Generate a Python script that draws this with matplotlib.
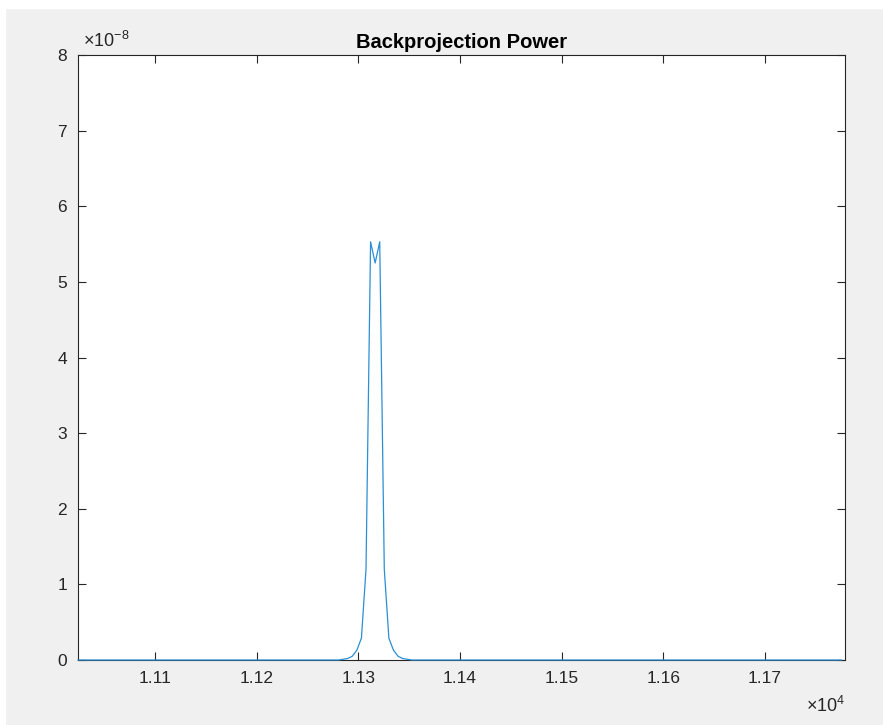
import numpy as np
import matplotlib.pyplot as plt
from matplotlib.patches import Rectangle

plt.rcParams['font.family'] = ['Liberation Sans', 'DejaVu Sans']
plt.rcParams['mathtext.fontset'] = 'custom'
plt.rcParams['mathtext.rm'] = 'Liberation Sans'

# sample grid (range axis)
x_start = 11024.0
x_step = 4.5
# backprojection power, in units of 1e-8
peak_vals = [0.01, 0.02, 0.05, 0.13, 0.29, 1.2, 5.53, 5.25, 5.53, 1.2, 0.29, 0.13, 0.05, 0.02, 0.01]
power = [0.0] * 58 + peak_vals + [0.0] * 95

xticks = [11100, 11200, 11300, 11400, 11500, 11600, 11700]
xtick_labels = ['1.11', '1.12', '1.13', '1.14', '1.15', '1.16', '1.17']
yticks = [0, 1, 2, 3, 4, 5, 6, 7, 8]

x = x_start + x_step * np.arange(len(power))
y = np.array(power) * 1e-8

fig = plt.figure(figsize=(8.83, 7.25), dpi=100, facecolor='#f0f0f0')
# white strips left over from the screenshot crop
fig.patches.append(Rectangle((0, 1 - 8/725), 1, 8/725, transform=fig.transFigure, color='white', zorder=-1))
fig.patches.append(Rectangle((0, 0), 5/883, 1, transform=fig.transFigure, color='white', zorder=-1))

ax = fig.add_axes([78/883, 65/725, (845-78)/883, (660-55)/725])
ax.plot(x, y, color='#2a8fd4', lw=0.9, zorder=3, clip_on=False)

ax.set_xlim(11024, 11779)
ax.set_ylim(0, 8e-8)
ax.set_xticks(xticks)
ax.set_xticklabels(xtick_labels)
ax.set_yticks([v * 1e-8 for v in yticks])
ax.set_yticklabels([str(v) for v in yticks])

ax.tick_params(direction='in', length=6, width=0.8, color='#262626', labelcolor='#262626',
               labelsize=12.5, top=True, right=True, pad=8)
for s in ax.spines.values():
    s.set_color('#262626')
    s.set_linewidth(0.8)

ax.set_title('Backprojection Power', fontsize=14.5, fontweight='bold', color='#000000', pad=5)
ax.text(0.006, 1.006, r'$\times\mathregular{10^{-8}}$', transform=ax.transAxes,
        fontsize=13, color='#262626', ha='left', va='bottom')
ax.text(1.0, -0.06, r'$\times\mathregular{10^{4}}$', transform=ax.transAxes,
        fontsize=13, color='#262626', ha='right', va='top')

plt.savefig('out.png', dpi=100, facecolor=fig.get_facecolor())
